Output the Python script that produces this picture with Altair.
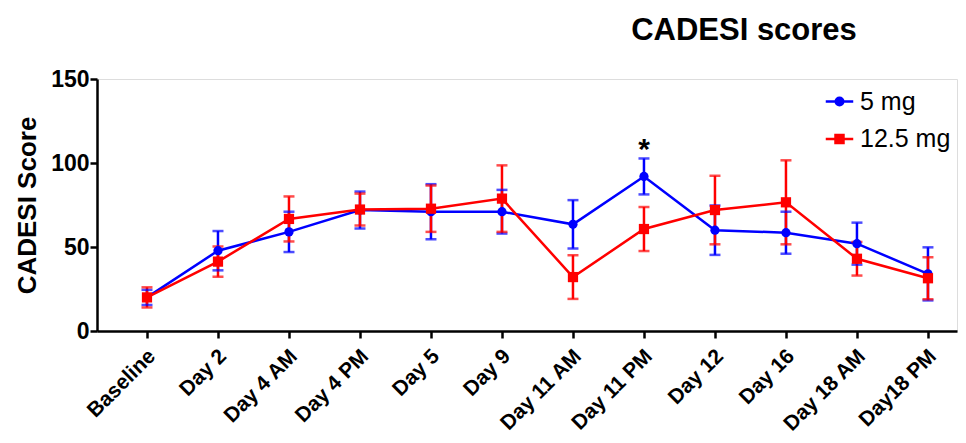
import altair as alt
import pandas as pd

days = ["Baseline", "Day 2", "Day 4 AM", "Day 4 PM", "Day 5", "Day 9",
        "Day 11 AM", "Day 11 PM", "Day 12", "Day 16", "Day 18 AM", "Day18 PM"]
mean_5 = [20, 47.8, 59, 72, 71, 71, 63.5, 92, 60, 58.5, 52, 34]
err_5 = [4.5, 11.7, 12, 11, 16.4, 13, 14.4, 10.7, 14.7, 12.5, 12.5, 15.8]
mean_125 = [20, 41.3, 66.7, 72.3, 72.8, 78.8, 32.1, 60.7, 72, 76.6, 43, 31.4]
err_125 = [6, 9, 13.4, 9.5, 13.8, 19.8, 13, 13.1, 20.4, 25, 10, 12.5]
series_names = ["5 mg", "12.5 mg"]
series_colors = ["#0000ff", "#ff0000"]
star_day_index = 7
star_value = 108

rows = []
for s, means, errs in [(series_names[0], mean_5, err_5), (series_names[1], mean_125, err_125)]:
    for i, (d, m, e) in enumerate(zip(days, means, errs)):
        rows.append({"idx": i, "day": d, "series": s, "mean": m, "lo": m - e, "hi": m + e})
df = pd.DataFrame(rows)
star_df = pd.DataFrame({"idx": [star_day_index], "val": [star_value], "txt": ["*"]})

FONT = "Liberation Sans"
label_expr = "[" + ",".join("'%s'" % d for d in days) + "][datum.value]"

x_scale = alt.Scale(domain=[-0.704, 11.409], nice=False, zero=False)
y_scale = alt.Scale(domain=[0, 150], nice=False)
color_scale = alt.Scale(domain=series_names, range=series_colors)

x_axis = alt.Axis(values=list(range(len(days))), labelExpr=label_expr, title=None,
                  labelAngle=-45, labelAlign="right", labelBaseline="top",
                  labelFont=FONT, labelFontSize=21, labelFontWeight="bold",
                  labelColor="black", labelPadding=7, labelOffset=-3,
                  labelFlush=False, labelOverlap=False, labelBound=False,
                  tickSize=7, tickWidth=2.5, tickColor="black",
                  domainColor="black", domainWidth=2.5, grid=False)
y_axis = alt.Axis(values=[0, 50, 100, 150], title="CADESI Score",
                  titleFont=FONT, titleFontSize=26, titleFontWeight="bold", titleColor="black",
                  titlePadding=10,
                  labelFont=FONT, labelFontSize=23, labelFontWeight="bold", labelColor="black",
                  labelPadding=1, tickSize=7, tickWidth=2.5, tickColor="black",
                  domainColor="black", domainWidth=2.5, grid=False)

X = alt.X("idx:Q", scale=x_scale, axis=x_axis)

circle_path = "M-2.2,0H2.2M0.6,0A0.6,0.6,0,1,1,-0.6,0A0.6,0.6,0,1,1,0.6,0Z"
square_path = "M-2.2,0H2.2M-0.64,-0.64H0.64V0.64H-0.64Z"

legend = alt.Legend(
    title=None, orient="none", legendX=730, legendY=10, padding=0,
    labelFont=FONT, labelFontSize=25, labelColor="black", labelFontWeight="normal",
    symbolSize=156, symbolStrokeWidth=2.5, symbolOpacity=1,
    symbolFillColor="black", symbolStrokeColor="black",
    labelOffset=8, rowPadding=11.5,
)

base = alt.Chart(df)
color_enc = alt.Color("series:N", scale=color_scale, legend=legend)

line = base.mark_line(strokeWidth=2.5).encode(
    x=X, y=alt.Y("mean:Q", scale=y_scale, axis=y_axis),
    color=color_enc, detail="series:N")

rules = base.mark_rule(strokeWidth=2.5).encode(
    x=X, y=alt.Y("lo:Q", scale=y_scale), y2="hi:Q", color=color_enc)

cap_lo = base.mark_tick(orient="horizontal", size=11, thickness=2.5).encode(
    x=X, y=alt.Y("lo:Q", scale=y_scale), color=color_enc)
cap_hi = base.mark_tick(orient="horizontal", size=11, thickness=2.5).encode(
    x=X, y=alt.Y("hi:Q", scale=y_scale), color=color_enc)

circles = base.transform_filter(alt.datum.series == series_names[0]).mark_circle(
    size=85, opacity=1).encode(
    x=X, y=alt.Y("mean:Q", scale=y_scale), color=color_enc)
squares = base.transform_filter(alt.datum.series == series_names[1]).mark_square(
    size=105, opacity=1).encode(
    x=X, y=alt.Y("mean:Q", scale=y_scale), color=color_enc)

legend_layer = base.mark_point(filled=True, opacity=0).encode(
    x=X, y=alt.Y("mean:Q", scale=y_scale),
    color=color_enc,
    shape=alt.Shape("series:N", scale=alt.Scale(domain=series_names, range=[circle_path, square_path]),
                    legend=legend))

star = alt.Chart(star_df).mark_text(font=FONT, fontSize=30, fontWeight="bold",
                                    color="black", baseline="middle").encode(
    x=X, y=alt.Y("val:Q", scale=y_scale), text="txt:N")

chart = alt.layer(line, rules, cap_lo, cap_hi, circles, squares, legend_layer, star).properties(
    width=860, height=252,
    title=alt.TitleParams("CADESI scores", font=FONT, fontSize=31, fontWeight="bold",
                          color="black", anchor="middle", dx=217, offset=21),
    padding={"left": 89, "top": 71, "right": 1, "bottom": 104},
    autosize=alt.AutoSizeParams(type="none"),
).configure_view(stroke=None).configure(background="white")

chart.save("out.html", embed_options={"renderer": "svg", "actions": False})
